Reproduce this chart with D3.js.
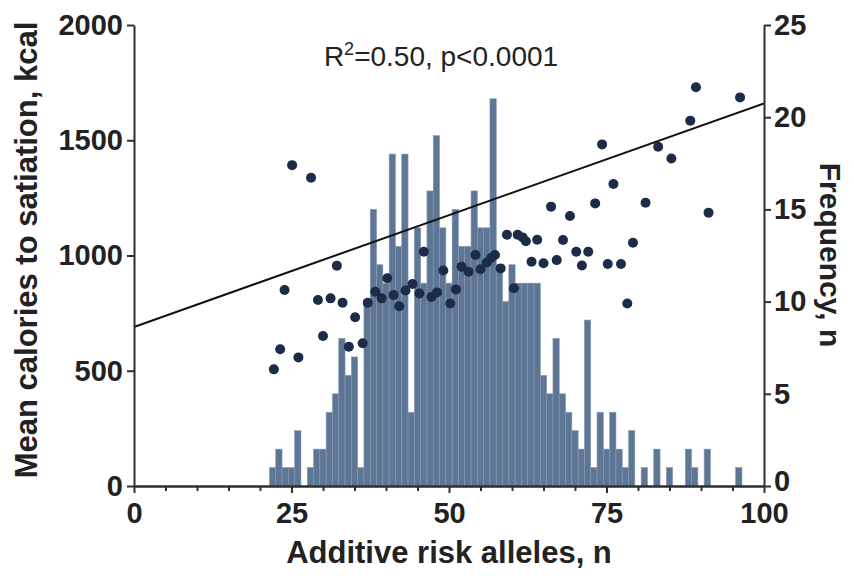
<!DOCTYPE html>
<html>
<head>
<meta charset="utf-8">
<script src="https://cdn.jsdelivr.net/npm/d3@7/dist/d3.min.js"></script>
<style>
  html, body { margin: 0; padding: 0; background: #ffffff; }
  svg { display: block; }
  .tick text { font-family: "Liberation Sans", Arial, sans-serif; font-weight: bold; font-size: 29px; fill: #222; }
  .axis path, .axis line { stroke: #2e2e2e; stroke-width: 2; }
</style>
</head>
<body>
<svg id="chart" width="854" height="576"></svg>
<script>
// Histogram: number of people carrying each count of additive risk alleles
const alleleBins = [22, 23, 24, 25, 26, 27, 28, 29, 30, 31, 32, 33, 34, 35, 36, 37, 38, 39, 40,
  41, 42, 43, 44, 45, 46, 47, 48, 49, 50, 51, 52, 53, 54, 55, 56, 57, 58, 59, 60,
  61, 62, 63, 64, 65, 66, 67, 68, 69, 70, 71, 72, 73, 74, 75, 76, 77, 78, 79, 80,
  81, 82, 83, 84, 85, 86, 87, 88, 89, 90, 91, 92, 93, 94, 95, 96];
const binFrequency = [1, 2, 1, 1, 3, 0, 1, 2, 2, 4, 5, 8, 6, 7, 1, 10, 15, 12, 11,
  18, 13, 18, 4, 14, 11, 16, 19, 14, 11, 15, 13, 13, 16, 14, 14, 21, 12, 10, 12,
  11, 11, 11, 11, 6, 5, 8, 5, 4, 3, 2, 9, 1, 4, 2, 4, 2, 1, 3, 0,
  1, 0, 2, 0, 1, 0, 0, 2, 1, 0, 2, 0, 0, 0, 0, 1];

// Scatter: mean calories to satiation against risk-allele count
const pointAlleles = [22.2, 23.2, 23.9, 25.1, 26.1, 28.1, 29.2, 30.0, 31.2, 32.2, 33.1, 34.1,
  35.1, 36.3, 37.1, 38.3, 39.3, 40.2, 41.2, 42.1, 43.1, 44.2, 45.3, 46.0, 47.2, 48.1,
  49.1, 50.2, 51.1, 52.0, 53.1, 54.2, 55.0, 56.0, 56.7, 57.3, 58.2, 59.2, 60.3, 60.9,
  61.7, 62.2, 63.1, 64.0, 65.0, 66.2, 67.1, 68.1, 69.2, 70.2, 71.1, 72.1, 73.2, 74.3,
  75.2, 76.1, 77.3, 78.3, 79.2, 81.2, 83.2, 85.3, 88.3, 89.2, 91.2, 96.2];
const pointCalories = [506, 593, 850, 1392, 558, 1337, 807, 651, 814, 956, 795, 604,
  732, 619, 795, 843, 814, 901, 829, 780, 848, 876, 835, 1016, 820, 840,
  935, 792, 853, 951, 930, 1002, 940, 970, 990, 1002, 944, 1090, 858, 1090,
  1078, 1062, 973, 1068, 966, 1212, 980, 1067, 1171, 1016, 957, 1016, 1226, 1482,
  963, 1310, 963, 792, 1055, 1229, 1472, 1421, 1585, 1730, 1186, 1686];

// Fitted regression line end points (x, kcal)
const fitX = [0, 100];
const fitCalories = [690, 1660];

// Axis ticks
const xMajorTicks = [0, 25, 50, 75, 100];
const xMinorTicks = [5, 10, 15, 20, 30, 35, 40, 45, 55, 60, 65, 70, 80, 85, 90, 95];
const calorieTicks = [0, 500, 1000, 1500, 2000];
const frequencyTicks = [0, 5, 10, 15, 20, 25];

const svg = d3.select("#chart");
const FONT = '"Liberation Sans", Arial, sans-serif';

const x = d3.scaleLinear().domain([0, 100]).range([134, 764]);
const yKcal = d3.scaleLinear().domain([0, 2000]).range([486, 25]);
const yFreq = d3.scaleLinear().domain([0, 25]).range([486, 25]);
const binW = x(1) - x(0);

// histogram bars
const bars = alleleBins.map((b, i) => ({ bin: b, n: binFrequency[i] })).filter(d => d.n > 0);
svg.append("g").selectAll("rect").data(bars).join("rect")
  .attr("x", d => x(d.bin) - binW / 2)
  .attr("width", binW)
  .attr("y", d => yFreq(d.n))
  .attr("height", d => yFreq(0) - yFreq(d.n))
  .attr("fill", "#5e7695")
  .attr("stroke", "#8799b0")
  .attr("stroke-width", 0.6);

// regression line
svg.append("line")
  .attr("x1", x(fitX[0])).attr("y1", yKcal(fitCalories[0]))
  .attr("x2", x(fitX[1])).attr("y2", yKcal(fitCalories[1]))
  .attr("stroke", "#111").attr("stroke-width", 2);

// scatter points
svg.append("g").selectAll("circle").data(pointAlleles.map((a, i) => [a, pointCalories[i]])).join("circle")
  .attr("cx", d => x(d[0]))
  .attr("cy", d => yKcal(d[1]))
  .attr("r", 5)
  .attr("fill", "#1c2b48");

// axes
svg.append("g").attr("class", "axis").attr("transform", "translate(0,486)")
  .call(d3.axisBottom(x).tickValues(xMinorTicks).tickSize(5).tickFormat("").tickSizeOuter(0));
svg.append("g").attr("class", "axis").attr("transform", "translate(0,486)")
  .call(d3.axisBottom(x).tickValues(xMajorTicks).tickSize(7).tickPadding(9).tickSizeOuter(0));
svg.append("g").attr("class", "axis").attr("transform", "translate(134,0)")
  .call(d3.axisLeft(yKcal).tickValues(calorieTicks).tickFormat(d3.format("d"))
    .tickSize(7).tickPadding(4).tickSizeOuter(0));
svg.append("g").attr("class", "axis").attr("transform", "translate(764,0)")
  .call(d3.axisRight(yFreq).tickValues(frequencyTicks).tickSize(7).tickPadding(3).tickSizeOuter(0));
// lift the right-axis zero slightly so it clears the x label below it
svg.selectAll(".axis").filter((d, i) => i === 3).selectAll(".tick text")
  .filter(d => d === 0).attr("dy", "0.15em");

// axis titles
svg.append("text")
  .attr("transform", "translate(37,250) rotate(-90)")
  .attr("text-anchor", "middle")
  .style("font-family", FONT).style("font-weight", "bold").style("font-size", "31px").style("fill", "#222")
  .text("Mean calories to satiation, kcal");
svg.append("text")
  .attr("transform", "translate(820,255) rotate(90)")
  .attr("text-anchor", "middle")
  .style("font-family", FONT).style("font-weight", "bold").style("font-size", "30px").style("fill", "#222")
  .text("Frequency, n");
svg.append("text")
  .attr("x", 449).attr("y", 563)
  .attr("text-anchor", "middle")
  .style("font-family", FONT).style("font-weight", "bold").style("font-size", "31px").style("fill", "#222")
  .text("Additive risk alleles, n");

// fit statistics
const stat = svg.append("text")
  .attr("x", 441).attr("y", 66)
  .attr("text-anchor", "middle")
  .style("font-family", FONT).style("font-size", "28px").style("fill", "#222");
stat.append("tspan").text("R");
stat.append("tspan").attr("dy", -11).style("font-size", "18px").text("2");
stat.append("tspan").attr("dy", 11).text("=0.50, p<0.0001");
</script>
</body>
</html>
